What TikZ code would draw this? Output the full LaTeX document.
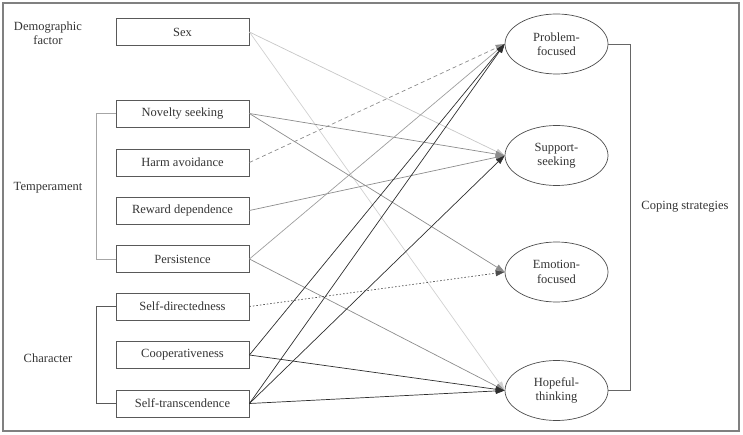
\documentclass[tikz,border=0pt]{standalone}
\usepackage{fontspec}
\setmainfont{Liberation Serif}
\usetikzlibrary{arrows.meta,shapes.geometric}
\begin{document}
\begin{tikzpicture}[x=1pt,y=-1pt,
  font=\fontsize{12.5}{14.5}\selectfont,
  factorbox/.style={draw=black!65, line width=0.8pt, minimum width=133pt, minimum height=27pt, inner sep=0pt, text=black!80},
  copeell/.style={ellipse, draw=black!70, line width=0.7pt, minimum width=103pt, minimum height=60pt, inner sep=0pt, align=center, text=black!80},
  lbl/.style={align=center, text=black!80},
  arr/.style={-{Triangle[length=9pt,width=6pt]}, line width=0.7pt},
  lightline/.style={arr, draw=black!22},
  midline/.style={arr, draw=black!45},
  darkline/.style={arr, draw=black!82},
  bracketlight/.style={draw=black!35, line width=0.8pt},
  bracketdark/.style={draw=black!65, line width=0.8pt},
]
\useasboundingbox (0,0) rectangle (743,435);
\draw[black!50, line width=1.2pt] (3,3) rectangle (739,431);

% factor boxes
\node[factorbox] (sex) at (182.5,32) {Sex};
\node[factorbox] (nov) at (182.5,113.5) {Novelty seeking};
\node[factorbox] (harm) at (182.5,162.5) {Harm avoidance};
\node[factorbox] (rew) at (182.5,210.5) {Reward dependence};
\node[factorbox] (per) at (182.5,259) {Persistence};
\node[factorbox] (sdir) at (182.5,306.5) {Self-directedness};
\node[factorbox] (coop) at (182.5,355) {Cooperativeness};
\node[factorbox] (strans) at (182.5,403.5) {Self-transcendence};

% group labels
\node[lbl] (demo) at (48,33) {Demographic\\factor};
\node[lbl] (temp) at (48,188) {Temperament};
\node[lbl] (char) at (48,358) {Character};

% brackets
\draw[bracketlight] (nov.west) -- (96,113.5) -- (96,259) -- (per.west);
\draw[bracketdark] (sdir.west) -- (96,306.5) -- (96,403.5) -- (strans.west);

% coping ellipses
\node[copeell] (prob) at (556.5,44) {Problem-\\focused};
\node[copeell] (supp) at (556.5,155.5) {Support-\\seeking};
\node[copeell] (emo) at (556.5,272) {Emotion-\\focused};
\node[copeell] (hope) at (556.5,390.5) {Hopeful-\\thinking};

\draw[draw=black!60, line width=0.8pt] (prob.east) -- (630,44) -- (630,390.5) -- (hope.east);
\node[lbl] (cope) at (685,207) {Coping strategies};

% paths
\draw[lightline] (sex.east) -- (supp.west);
\draw[lightline, draw=black!18] (sex.east) -- (hope.west);
\draw[midline] (nov.east) -- (supp.west);
\draw[midline] (nov.east) -- (emo.west);
\draw[midline, dashed, dash pattern=on 4pt off 3pt] (harm.east) -- (prob.west);
\draw[midline] (rew.east) -- (supp.west);
\draw[midline, draw=black!38] (per.east) -- (prob.west);
\draw[midline] (per.east) -- (hope.west);
\draw[darkline, draw=black!70, dash pattern=on 1.5pt off 2pt] (sdir.east) -- (emo.west);
\draw[darkline] (coop.east) -- (prob.west);
\draw[darkline] (coop.east) -- (hope.west);
\draw[darkline] (strans.east) -- (prob.west);
\draw[darkline] (strans.east) -- (supp.west);
\draw[darkline] (strans.east) -- (hope.west);
\end{tikzpicture}
\end{document}
